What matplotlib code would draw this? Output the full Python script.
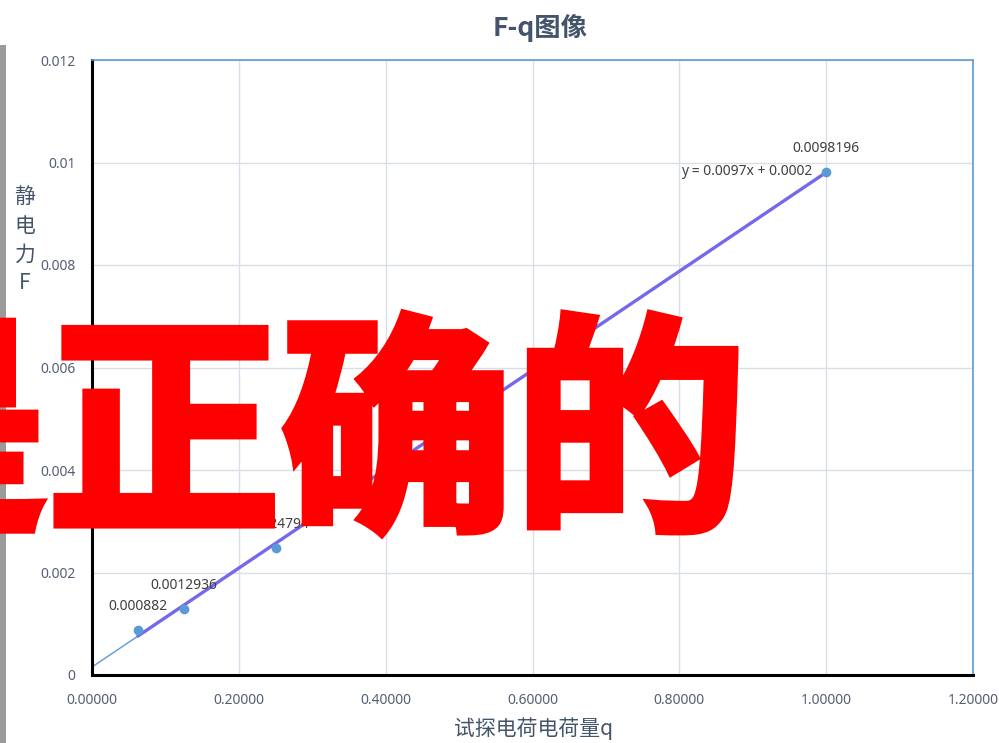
import numpy as np
import matplotlib
matplotlib.use("Agg")
import matplotlib.pyplot as plt
from matplotlib.patches import Rectangle
import matplotlib.patheffects as pe

# ---- data ----
q_values = [0.0625, 0.125, 0.25, 0.5, 1.0]
F_values = [0.000882, 0.0012936, 0.0024794, 0.0050049, 0.0098196]
point_labels = ['0.000882', '0.0012936', '0.0024794', '0.0050049', '0.0098196']
x_ticks = [0.0, 0.2, 0.4, 0.6, 0.8, 1.0, 1.2]
x_tick_labels = ['0.00000', '0.20000', '0.40000', '0.60000', '0.80000', '1.00000', '1.20000']
y_ticks = [0, 0.002, 0.004, 0.006, 0.008, 0.010, 0.012]
y_tick_labels = ['0', '0.002', '0.004', '0.006', '0.008', '0.01', '0.012']
title_text = 'F-q图像'
xlabel_text = '试探电荷电荷量q'
ylabel_text = '静\n电\n力\nF'
equation_text = 'y = 0.0097x + 0.0002'
overlay_text = '是正确的'

CJK = ['Noto Sans CJK SC', 'DejaVu Sans']
LAT = ['Noto Sans', 'DejaVu Sans']
tick_color = '#566073'
text_color = '#44546a'

W, H = 999, 743
fig = plt.figure(figsize=(W / 100, H / 100), dpi=100)
fig.patch.set_facecolor('white')

ax = fig.add_axes([92 / W, 1 - 675 / H, (973 - 92) / W, (675 - 60) / H])
ax.set_xlim(0, 1.2)
ax.set_ylim(0, 0.012)

ax.set_xticks(x_ticks)
ax.set_xticklabels(x_tick_labels, family=LAT, fontsize=10, color=tick_color)
ax.set_yticks(y_ticks)
ax.set_yticklabels(y_tick_labels, family=LAT, fontsize=10, color=tick_color)
ax.tick_params(axis='both', length=0)
ax.tick_params(axis='x', pad=13)
ax.tick_params(axis='y', pad=12)

ax.grid(True, color='#d9dee8', linewidth=1.0)
ax.set_axisbelow(True)

for side in ['left', 'bottom']:
    ax.spines[side].set_color('black')
    ax.spines[side].set_linewidth(2.2)
for side in ['top', 'right']:
    ax.spines[side].set_color('#5b9bd5')
    ax.spines[side].set_linewidth(1.2)

# trendline
slope, intercept = np.polyfit(q_values, F_values, 1)
xs_thin = np.array([0.0, q_values[-1]])
ax.plot(xs_thin, slope * xs_thin + intercept, color='#5b9bd5', lw=1.0, zorder=2)
xs_thick = np.array([q_values[0], q_values[-1]])
ax.plot(xs_thick, slope * xs_thick + intercept, color='#7468ec', lw=2.4,
        solid_capstyle='round', zorder=3)

# points
ax.plot(q_values, F_values, 'o', color='#5b9bd5', markersize=7, zorder=4,
        markeredgewidth=0)
for xv, yv, lab in zip(q_values, F_values, point_labels):
    ax.annotate(lab, (xv, yv), xytext=(0, 17), textcoords='offset points',
                ha='center', va='center', family=LAT, fontsize=10,
                color='#404040', zorder=5)

ax.text(0.981, 0.00982, equation_text, ha='right', va='center',
        family=LAT, fontsize=10, color='#404040', zorder=5)

# titles / labels
fig.text(540 / W, 1 - 28 / H, title_text, ha='center', va='center',
         family=CJK, fontsize=19, fontweight='bold', color=text_color)
fig.text(534 / W, 1 - 729 / H, xlabel_text, ha='center', va='center',
         family=CJK, fontsize=15, fontweight='medium', color=text_color)
fig.text(25 / W, 1 - 240 / H, ylabel_text, ha='center', va='center',
         family=CJK, fontsize=15, fontweight='medium', color=text_color,
         linespacing=1.4)

# gray strip at left edge
fig.patches.append(Rectangle((0, 0), 6 / W, 1 - 45 / H, transform=fig.transFigure,
                             facecolor='#9a9a98', edgecolor='none', zorder=1))

# big red overlay
fig.text(-186 / W, 1 - 444 / H, overlay_text, ha='left', va='center',
         family=CJK, fontsize=168, fontweight='black', color='#ff0000', zorder=10,
         path_effects=[pe.Stroke(linewidth=6, foreground='#ff0000', joinstyle='miter'),
                       pe.Normal()])

fig.savefig('out.png', dpi=100)
